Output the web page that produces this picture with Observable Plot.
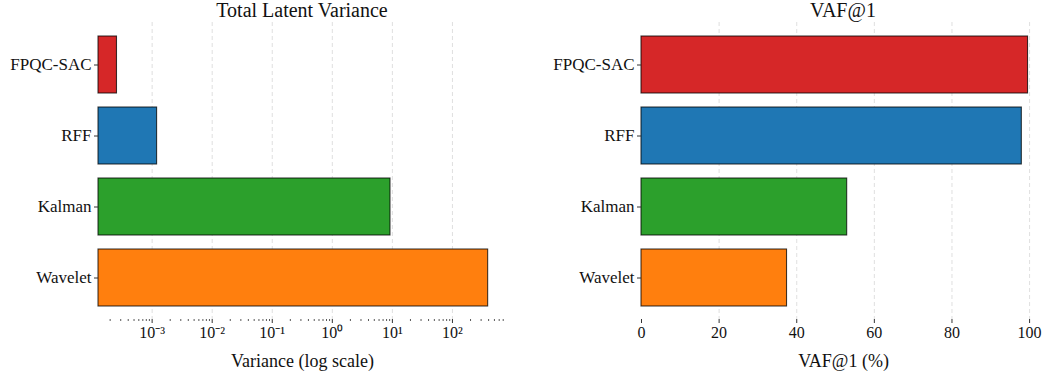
<!DOCTYPE html>
<html>
<head>
<meta charset="utf-8">
<script src="https://cdn.jsdelivr.net/npm/d3@7"></script>
<script src="https://cdn.jsdelivr.net/npm/@observablehq/plot@0.6"></script>
<style>
  html, body { margin: 0; padding: 0; background: #fff; }
  #wrap { display: flex; width: 1045px; height: 375px; font-family: "Liberation Serif", serif; color: #111; }
  .panel { position: relative; }
  .title { height: 20px; line-height: 20px; font-size: 20px; text-align: center; white-space: nowrap; }
  svg, svg text { font-family: "Liberation Serif", serif !important; }
</style>
</head>
<body>
<div id="wrap">
  <div class="panel" id="left" style="width:520px"><div class="title" style="padding-left:84px;">Total Latent Variance</div></div>
  <div class="panel" id="right" style="width:525px"><div class="title" style="padding-left:121px;">VAF@1</div></div>
</div>
<script>
const methods = ["FPQC-SAC", "RFF", "Kalman", "Wavelet"];
const variance = [2.6e-4, 1.21e-3, 9.3, 393];
const vaf = [99.6, 98.0, 53.0, 37.5];
const colors = ["#d62728", "#1f77b4", "#2ca02c", "#ff7f0e"];
const logTicks = [1e-3, 1e-2, 1e-1, 1, 10, 100];
const linTicks = [0, 20, 40, 60, 80, 100];
const logDomain = [1.28e-4, 794];
const linDomain = [0, 104.1];

const rows = methods.map((m, i) => ({method: m, variance: variance[i], vaf: vaf[i]}));

const supMap = {"-": "\u207B", "0": "\u2070", "1": "\u00B9", "2": "\u00B2", "3": "\u00B3", "4": "\u2074", "5": "\u2075", "6": "\u2076", "7": "\u2077", "8": "\u2078", "9": "\u2079"};
const supFmt = d => "10" + String(Math.round(Math.log10(d))).split("").map(c => supMap[c]).join("");

// minor log ticks
const minorTicks = [];
for (let e = -4; e <= 2; e++) for (let k = 2; k <= 9; k++) {
  const v = k * Math.pow(10, e);
  if (v >= logDomain[0] && v <= logDomain[1]) minorTicks.push(v);
}

const common = {
  height: 355,
  marginTop: 2,
  marginBottom: 56,
  style: {fontFamily: "'Liberation Serif', serif", fontSize: "16px", color: "#111", background: "transparent", overflow: "visible"},
  y: {domain: methods, paddingInner: 0.2, paddingOuter: 0.19},
  color: {domain: methods, range: colors}
};

const gridStyle = {stroke: "#bbb", strokeOpacity: 0.6, strokeDasharray: "4,3", strokeWidth: 0.8};
const barStyle = {stroke: "#000", strokeOpacity: 0.75, strokeWidth: 1.1};

function fixLabels(svg, labelText) {
  svg.querySelectorAll("text").forEach(t => {
    if (t.textContent.includes(labelText)) {
      t.textContent = labelText;
      t.setAttribute("font-size", "18");
      t.style.fontSize = "18px";
    }
  });
}

const left = Plot.plot({
  ...common,
  width: 520,
  marginLeft: 98,
  marginRight: 14,
  x: {type: "log", domain: logDomain},
  marks: [
    Plot.gridX(logTicks, gridStyle),
    Plot.barX(rows, {y: "method", x1: logDomain[0], x2: "variance", fill: "method", ...barStyle}),
    Plot.axisY({tickSize: 4, tickPadding: 3, fontSize: 17, label: null, line: true, stroke: "#333"}),
    Plot.axisX(minorTicks, {tickSize: 2, tickFormat: () => "", label: null, strokeWidth: 0.7}),
    Plot.axisX(logTicks, {tickSize: 4, tickPadding: 3, tickFormat: supFmt, fontSize: 16, label: "Variance (log scale)", labelArrow: "none", labelAnchor: "center", labelOffset: 47, line: true, stroke: "#333"})
  ]
});
fixLabels(left, "Variance (log scale)");
document.getElementById("left").appendChild(left);

const right = Plot.plot({
  ...common,
  width: 525,
  marginLeft: 121,
  marginRight: 0,
  x: {domain: linDomain},
  marks: [
    Plot.gridX(linTicks.filter(d => d > 0), gridStyle),
    Plot.barX(rows, {y: "method", x: "vaf", fill: "method", ...barStyle}),
    Plot.axisY({tickSize: 4, tickPadding: 3, fontSize: 17, label: null, line: true, stroke: "#333"}),
    Plot.axisX(linTicks, {tickSize: 4, tickPadding: 3, fontSize: 16, label: "VAF@1 (%)", labelArrow: "none", labelAnchor: "center", labelOffset: 47, line: true, stroke: "#333"})
  ]
});
fixLabels(right, "VAF@1 (%)");
document.getElementById("right").appendChild(right);
</script>
</body>
</html>
